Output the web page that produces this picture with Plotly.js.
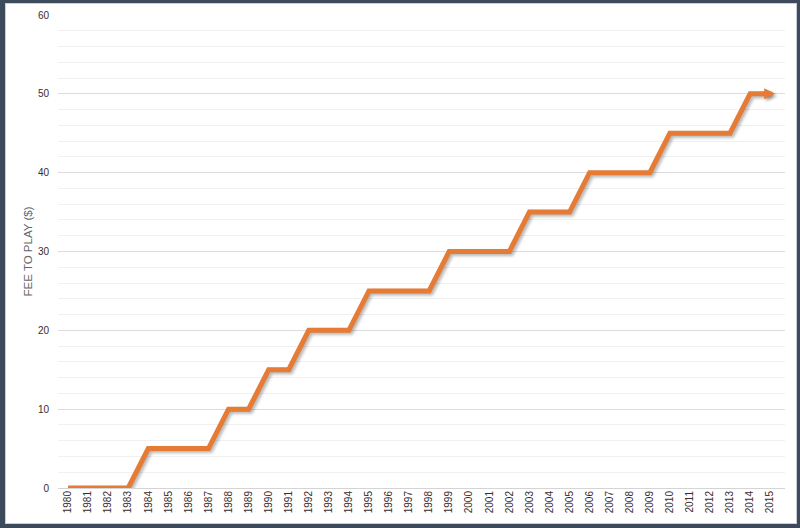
<!DOCTYPE html>
<html>
<head>
<meta charset="utf-8">
<script src="https://cdn.plot.ly/plotly-3.0.1.min.js"></script>
<style>
    body { margin: 0; background: #fff; }
    #wrap { position: relative; width: 800px; height: 528px; }
    #chart { position: absolute; left: 0; top: 0; width: 800px; height: 528px; }
    /* dark window frame around the chart */
    #frame {
        position: absolute; left: 0; top: 0; width: 800px; height: 528px;
        box-sizing: border-box; pointer-events: none;
        border-style: solid; border-color: #3d4a5c;
        border-width: 3px 3px 4px 5px;
        box-shadow: inset 0 0 0 1px #c9ced6;
    }
    /* soft shadow under the line and arrow */
    #chart .scatterlayer .js-line,
    #chart .annotation-arrow-g { filter: drop-shadow(2px 2px 1.5px rgba(0,0,0,0.28)); }
</style>
</head>
<body>
<div id="wrap">
    <div id="chart"></div>
    <div id="frame"></div>
</div>

<script>
    var years = [1980, 1983, 1984, 1987, 1988, 1989, 1990, 1991, 1992, 1994,
                 1995, 1998, 1999, 2002, 2003, 2005, 2006, 2009, 2010, 2013,
                 2014, 2015];
    var fees  = [0, 0, 5, 5, 10, 10, 15, 15, 20, 20,
                 25, 25, 30, 30, 35, 35, 40, 40, 45, 45,
                 50, 50];
    var tickYears = [];
    for (var y = 1980; y <= 2015; y++) tickYears.push(y);

    var lastX = years[years.length - 1];
    var lastY = fees[fees.length - 1];

    var trace1 = {
        x: years,
        y: fees,
        mode: 'lines',
        line: { color: '#e57b35', width: 5 },
        hoverinfo: 'x+y',
        type: 'scatter'
    };

    var layout = {
        width: 800,
        height: 528,
        paper_bgcolor: '#fff',
        plot_bgcolor: '#fff',
        showlegend: false,
        margin: { t: 15, r: 15, l: 58, b: 40 },
        font: { family: 'Liberation Sans, Arial, sans-serif', size: 10, color: '#3a2c2c' },
        xaxis: {
            range: [1979.5, 2015.74],
            tickmode: 'array',
            tickvals: tickYears,
            ticktext: tickYears.map(String),
            tickangle: -90,
            tickfont: { size: 10, color: '#3a2c2c' },
            showgrid: false,
            zeroline: false,
            showline: false,
            ticks: ''
        },
        yaxis: {
            range: [0, 60],
            dtick: 10,
            tickfont: { size: 10, color: '#3a2c2c' },
            gridcolor: '#dcdcdc',
            gridwidth: 1,
            minor: { dtick: 2, showgrid: true, gridcolor: '#f0f0f0', gridwidth: 1 },
            zeroline: true,
            zerolinecolor: '#d4d4d4',
            showline: false,
            ticks: '',
            ticklabelstandoff: 8,
            title: { text: 'FEE TO PLAY ($)', font: { size: 11.5, color: '#666' }, standoff: 2 }
        },
        // arrow head at the end of the line
        annotations: [{
            x: lastX + 0.25, y: lastY,
            ax: lastX - 0.2, ay: lastY,
            xref: 'x', yref: 'y', axref: 'x', ayref: 'y',
            text: '',
            showarrow: true,
            arrowhead: 2,
            arrowsize: 0.55,
            arrowwidth: 4,
            arrowcolor: '#e57b35'
        }]
    };

    Plotly.newPlot('chart', [trace1], layout, { displayModeBar: false });
</script>
</body>
</html>
